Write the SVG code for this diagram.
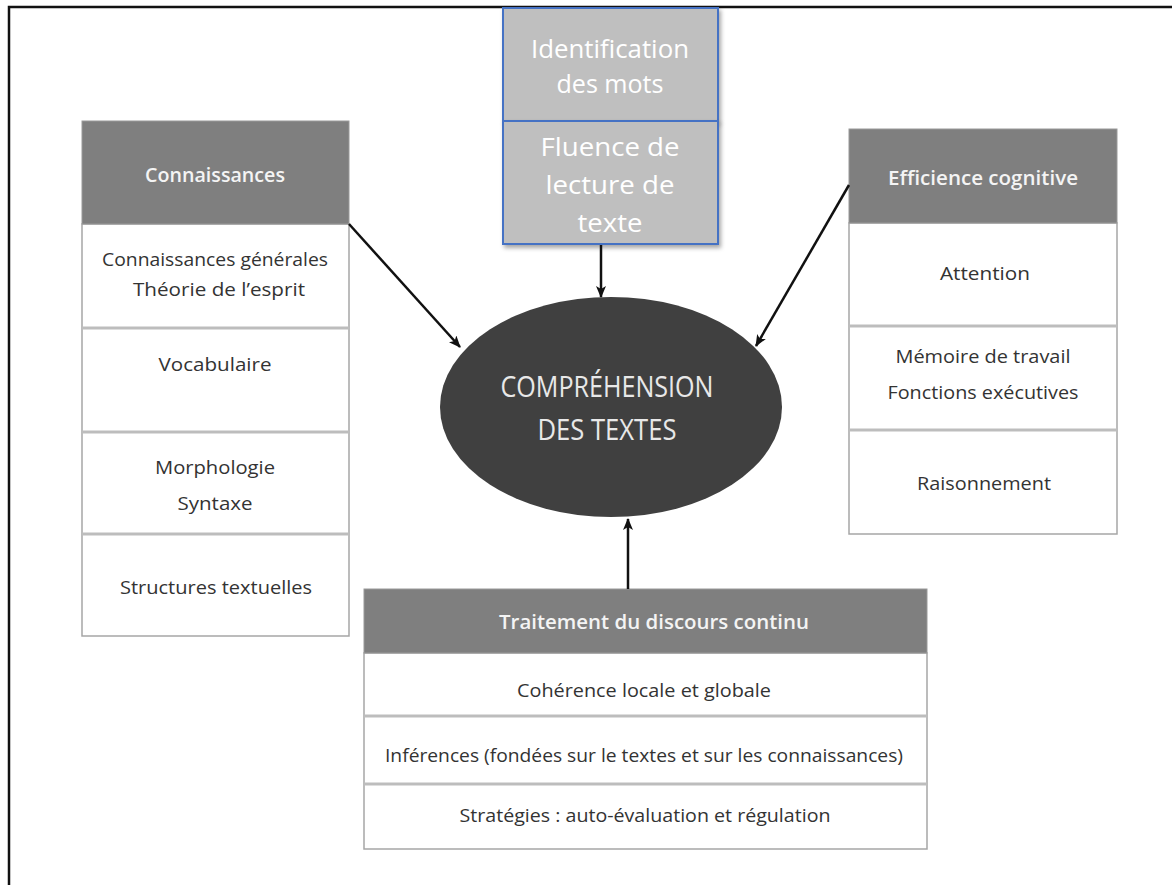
<svg xmlns="http://www.w3.org/2000/svg" width="1172" height="885" viewBox="0 0 1172 885">
<defs>
<marker id="ah" viewBox="0 0 12 10" refX="11" refY="5" markerWidth="12" markerHeight="10" markerUnits="userSpaceOnUse" orient="auto">
<path d="M0,0 L12,5 L0,10 L3,5 Z" fill="#111"/>
</marker>
<filter id="sh" x="-5%" y="-5%" width="115%" height="115%">
<feDropShadow dx="2" dy="3" stdDeviation="2" flood-color="#000" flood-opacity="0.35"/>
</filter>
</defs>
<style>
.hdr{fill:#7f7f7f;stroke:#9a9a9a;stroke-width:1}
.cell{fill:#fff;stroke:#a6a6a6;stroke-width:1.5}
.div{stroke:#bdbdbd;stroke-width:3}
.ht{font-family:"Open Sans","Liberation Sans",sans-serif;font-size:19px;font-weight:600;fill:#f4f4f4;text-anchor:middle;dominant-baseline:central}
.bt{font-family:"Open Sans","Liberation Sans",sans-serif;font-size:18px;fill:#333;text-anchor:middle;dominant-baseline:central}
.tb{fill:#bfbfbf;stroke:#4472c4;stroke-width:2}
.tt{font-family:"Open Sans","Liberation Sans",sans-serif;font-size:25px;fill:#fff;text-anchor:middle;dominant-baseline:central}
.et{font-family:"Open Sans","Liberation Sans",sans-serif;font-size:30px;fill:#e8e8e8;text-anchor:middle;dominant-baseline:central}
.con{stroke:#111;stroke-width:2.5;fill:none;marker-end:url(#ah)}
</style>
<rect width="1172" height="885" fill="#fff"/>
<path d="M9,885 L9,7 L1172,7" fill="none" stroke="#111" stroke-width="2.5"/>

<g id="connaissances">
<rect class="cell" x="82" y="224" width="267" height="412"/>
<line class="div" x1="82" y1="328" x2="349" y2="328"/>
<line class="div" x1="82" y1="432" x2="349" y2="432"/>
<line class="div" x1="82" y1="534" x2="349" y2="534"/>
<rect class="hdr" x="82" y="121" width="267" height="103"/>
<text class="ht" x="215" y="175" textLength="140" lengthAdjust="spacingAndGlyphs">Connaissances</text>
<text class="bt" x="215" y="259" textLength="226" lengthAdjust="spacingAndGlyphs">Connaissances générales</text>
<text class="bt" x="219" y="289" textLength="172" lengthAdjust="spacingAndGlyphs">Théorie de l’esprit</text>
<text class="bt" x="215" y="364" textLength="113" lengthAdjust="spacingAndGlyphs">Vocabulaire</text>
<text class="bt" x="215" y="467" textLength="120" lengthAdjust="spacingAndGlyphs">Morphologie</text>
<text class="bt" x="215" y="503" textLength="75" lengthAdjust="spacingAndGlyphs">Syntaxe</text>
<text class="bt" x="216" y="587" textLength="192" lengthAdjust="spacingAndGlyphs">Structures textuelles</text>
</g>

<g id="efficience">
<rect class="cell" x="849" y="223" width="268" height="311"/>
<line class="div" x1="849" y1="326" x2="1117" y2="326"/>
<line class="div" x1="849" y1="430" x2="1117" y2="430"/>
<rect class="hdr" x="849" y="129" width="268" height="94"/>
<text class="ht" x="983" y="178" textLength="190" lengthAdjust="spacingAndGlyphs">Efficience  cognitive</text>
<text class="bt" x="985" y="273" textLength="90" lengthAdjust="spacingAndGlyphs">Attention</text>
<text class="bt" x="983" y="356" textLength="175" lengthAdjust="spacingAndGlyphs">Mémoire de travail</text>
<text class="bt" x="983" y="392" textLength="191" lengthAdjust="spacingAndGlyphs">Fonctions exécutives</text>
<text class="bt" x="984" y="483" textLength="134" lengthAdjust="spacingAndGlyphs">Raisonnement</text>
</g>

<g id="traitement">
<rect class="cell" x="364" y="653" width="563" height="196"/>
<line class="div" x1="364" y1="716" x2="927" y2="716"/>
<line class="div" x1="364" y1="784" x2="927" y2="784"/>
<rect class="hdr" x="364" y="589" width="563" height="64"/>
<text class="ht" x="654" y="622" textLength="310" lengthAdjust="spacingAndGlyphs">Traitement du discours continu</text>
<text class="bt" x="644" y="690" textLength="254" lengthAdjust="spacingAndGlyphs">Cohérence locale et globale</text>
<text class="bt" x="644" y="755" textLength="518" lengthAdjust="spacingAndGlyphs">Inférences (fondées sur le textes et sur les connaissances)</text>
<text class="bt" x="645" y="815" textLength="371" lengthAdjust="spacingAndGlyphs">Stratégies : auto-évaluation et régulation</text>
</g>

<g id="lecture">
<rect class="tb" x="503" y="8" width="215" height="113" filter="url(#sh)"/>
<rect class="tb" x="503" y="121" width="215" height="123" filter="url(#sh)"/>
<text class="tt" x="610" y="48" textLength="158" lengthAdjust="spacingAndGlyphs">Identification</text>
<text class="tt" x="610" y="83" textLength="107" lengthAdjust="spacingAndGlyphs">des mots</text>
<text class="tt" x="610" y="146" textLength="139" lengthAdjust="spacingAndGlyphs">Fluence de</text>
<text class="tt" x="610" y="184" textLength="129" lengthAdjust="spacingAndGlyphs">lecture de</text>
<text class="tt" x="610" y="222" textLength="65" lengthAdjust="spacingAndGlyphs">texte</text>
</g>

<g id="comprehension">
<ellipse cx="611" cy="407" rx="171" ry="110" fill="#404040"/>
<text class="et" x="607" y="385" textLength="213" lengthAdjust="spacingAndGlyphs">COMPRÉHENSION</text>
<text class="et" x="607" y="428" textLength="139" lengthAdjust="spacingAndGlyphs">DES TEXTES</text>
</g>

<g id="connectors">
<line class="con" x1="349" y1="224" x2="460" y2="347"/>
<line class="con" x1="601" y1="245" x2="601" y2="297"/>
<line class="con" x1="849" y1="185" x2="756" y2="346"/>
<line class="con" x1="628" y1="589" x2="628" y2="519"/>
</g>
</svg>
